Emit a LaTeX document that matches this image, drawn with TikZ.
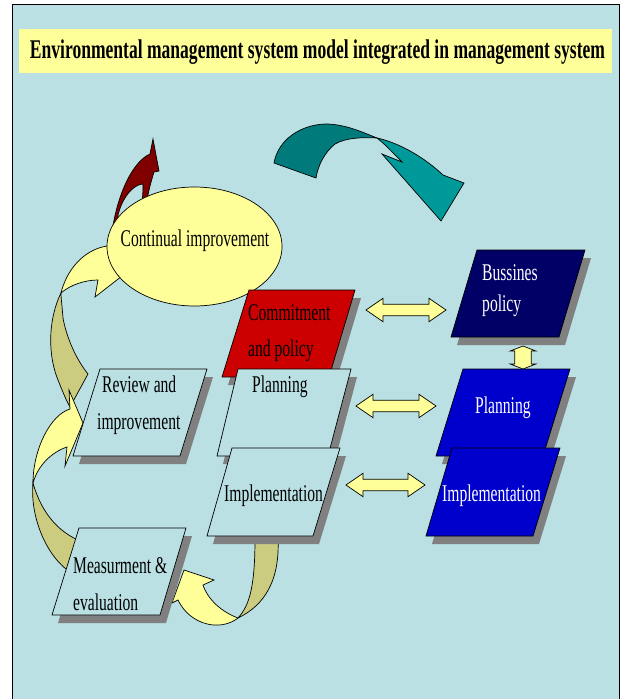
\documentclass[tikz,border=0pt]{standalone}
\usepackage{fontspec}
\setmainfont{Liberation Serif}
\usepackage{graphicx}
\definecolor{bg}{RGB}{186,224,227}
\definecolor{lyel}{RGB}{255,255,153}
\definecolor{khaki}{RGB}{204,204,128}
\definecolor{boxred}{RGB}{204,0,0}
\definecolor{navy}{RGB}{0,0,102}
\definecolor{bblue}{RGB}{0,0,204}
\definecolor{tealdark}{RGB}{0,122,122}
\definecolor{teallight}{RGB}{0,153,153}
\definecolor{dred}{RGB}{128,0,0}
\definecolor{shad}{RGB}{128,128,128}
\newcommand\sqz[1]{\scalebox{0.65}[1]{#1}}
\newcommand\pgrambox[5]{%
  \fill[shad] ([shift={(6,8)}]#2) -- ([shift={(6,8)}]#3) -- ([shift={(6,8)}]#4) -- ([shift={(6,8)}]#5) -- cycle;
  \filldraw[outl,fill=#1] (#2) -- (#3) -- (#4) -- (#5) -- cycle;}
\begin{document}
\begin{tikzpicture}[x=1pt,y=-1pt,
  outl/.style={draw=black,line width=0.7pt,line join=miter},
  txt/.style={inner sep=0pt,font=\fontsize{24}{24}\selectfont},
  wtxt/.style={txt,text=white},
  yarrow/.style={outl,fill=lyel},
  karrow/.style={outl,fill=khaki}]
\useasboundingbox (0,0) rectangle (621,699);
\fill[white] (0,0) rectangle (621,699);
\begin{scope}
\clip (0,0) rectangle (621,699);
\filldraw[fill=bg,draw=black,line width=0.8pt] (12,4) rectangle (619,710);
\end{scope}
% title
\fill[lyel] (19,29) rectangle (612,73);
\node[inner sep=0pt,anchor=base] (title) at (317.5,58) {\resizebox{575pt}{\height}{\fontsize{27}{27}\selectfont\bfseries Environmental management system model integrated in management system}};
% teal arrow
\filldraw[outl,fill=tealdark] (274,163) .. controls (278,140) and (300,125) .. (325,124) .. controls (345,124) and (362,132) .. (377,138) .. controls (362,137) and (345,138) .. (335,144) .. controls (325,152) and (318,165) .. (316,178) -- cycle;
\filldraw[outl,fill=teallight] (377,138) .. controls (400,143) and (425,158) .. (443,175) -- (464,183) -- (441,221) -- (382,154) -- (402,162) .. controls (395,155) and (387,146) .. (377,138) -- cycle;
% dark red arrow
\filldraw[outl,fill=dred] (113,226) .. controls (118,195) and (132,162) .. (150,154) -- (153,139) -- (159,171) -- (154,172) .. controls (151,182) and (148,192) .. (147,202) -- (142,202) .. controls (143,195) and (143,188) .. (143,184) .. controls (135,184) and (123,195) .. (118,215) -- (117,228) -- cycle;
% arrow A (review -> continual improvement)
\filldraw[karrow] (61,293) .. controls (50,315) and (46,350) .. (58,380) .. controls (62,390) and (66,400) .. (70,407) -- (88,374) .. controls (75,358) and (66,335) .. (63,318) .. controls (62,305) and (61,298) .. (61,293) -- cycle;
\filldraw[yarrow] (61,293) .. controls (66,272) and (82,250) .. (107,246) -- (135,255) -- (122,276) -- (95,297) -- (98,280) .. controls (85,280) and (70,285) .. (61,293) -- cycle;
% ellipse
\filldraw[outl,fill=lyel] (194.5,246.5) ellipse [x radius=87.5pt, y radius=59.5pt];
\node[txt,anchor=base] (cont) at (195,246) {\sqz{Continual improvement}};
% arrow B (measurement -> review)
\filldraw[karrow] (33,483) .. controls (30,515) and (45,555) .. (70,572) -- (78,540) .. controls (60,532) and (42,515) .. (33,483) -- cycle;
\filldraw[yarrow] (33,483) .. controls (33,450) and (50,415) .. (70,409) -- (69,390) -- (83,423) -- (65,466) -- (67,447) .. controls (52,452) and (38,465) .. (33,483) -- cycle;
% arrow C (implementation -> measurement)
\filldraw[karrow] (255,538) -- (278,538) .. controls (280,580) and (265,605) .. (238,618) .. controls (250,605) and (255,585) .. (255,538) -- cycle;
\filldraw[yarrow] (238,618) .. controls (220,632) and (190,625) .. (178,600) -- (172,603) -- (184,570) -- (214,580) -- (203,585) .. controls (208,600) and (222,612) .. (238,618) -- cycle;
% left column boxes
\pgrambox{boxred}{249,290}{355,290}{329,377}{222,377}
\node[txt,anchor=base west] (commit1) at (248,320) {\sqz{Commitment}};
\node[txt,anchor=base west] (commit2) at (248,356) {\sqz{and policy}};
\pgrambox{bg}{238,369}{351,369}{328,456}{217,456}
\node[txt,anchor=base west] (plan1) at (252,392) {\sqz{Planning}};
\pgrambox{bg}{232,448}{340,448}{313,536}{207,536}
\node[txt,anchor=base west] (impl1) at (224,501) {\sqz{Implementation}};
\pgrambox{bg}{100,369}{207,369}{180,456}{73,456}
\node[txt,anchor=base west] (rev1) at (102,392) {\sqz{Review and}};
\node[txt,anchor=base west] (rev2) at (97,429) {\sqz{improvement}};
\pgrambox{bg}{79,528}{186,528}{160,615}{52,615}
\node[txt,anchor=base west] (meas1) at (73,573) {\sqz{Measurment \&}};
\node[txt,anchor=base west] (meas2) at (73,610) {\sqz{evaluation}};
% right column boxes
\pgrambox{navy}{477,250}{585,250}{559,337}{451,337}
\node[wtxt,anchor=base west] (bus1) at (482,280) {\sqz{Bussines}};
\node[wtxt,anchor=base west] (bus2) at (482,311) {\sqz{policy}};
\pgrambox{bblue}{463,369}{570,369}{543,456}{436,456}
\node[wtxt,anchor=base west] (plan2) at (475,413) {\sqz{Planning}};
\pgrambox{bblue}{452,448}{560,448}{533,536}{426,536}
\node[wtxt,anchor=base west] (impl2) at (442,501) {\sqz{Implementation}};
% double arrows
\filldraw[yarrow] (366,310) -- (383,298.3) -- (383,304.2) -- (429,304.2) -- (429,298.3) -- (446,310) -- (429,321.7) -- (429,315.8) -- (383,315.8) -- (383,321.7) -- cycle;
\filldraw[yarrow] (356,406) -- (373,394.3) -- (373,400.2) -- (419,400.2) -- (419,394.3) -- (436,406) -- (419,417.7) -- (419,411.8) -- (373,411.8) -- (373,417.7) -- cycle;
\filldraw[yarrow] (346,485) -- (363,473.3) -- (363,479.2) -- (408,479.2) -- (408,473.3) -- (425,485) -- (408,496.7) -- (408,490.8) -- (363,490.8) -- (363,496.7) -- cycle;
\filldraw[yarrow] (523,346) -- (535.8,351) -- (531.3,351) -- (531.3,364) -- (535.8,364) -- (523,369) -- (510.2,364) -- (514.7,364) -- (514.7,351) -- (510.2,351) -- cycle;
\end{tikzpicture}
\end{document}
